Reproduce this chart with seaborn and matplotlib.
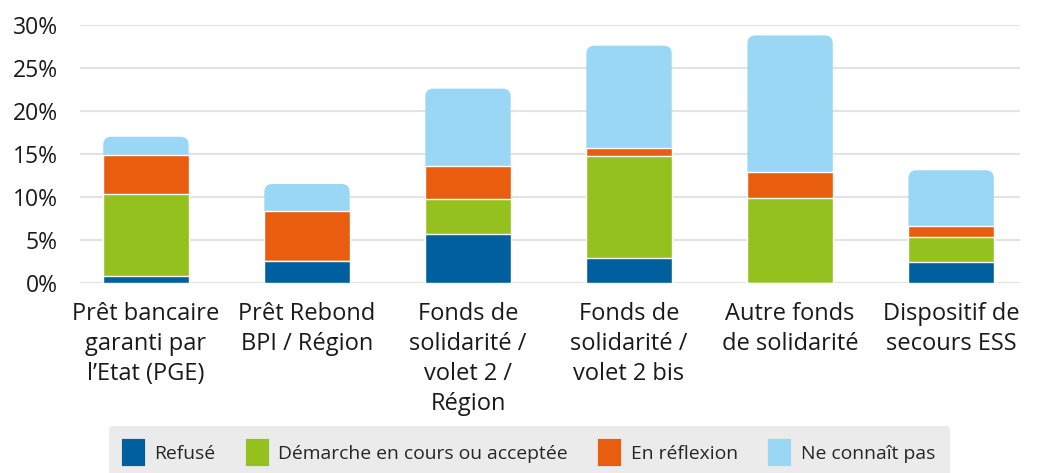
import numpy as np
import pandas as pd
import seaborn as sns
import matplotlib.pyplot as plt
from matplotlib.patches import FancyBboxPatch, Patch

# data (percent)
categories = ['Prêt bancaire\ngaranti par\nl’Etat (PGE)', 'Prêt Rebond\nBPI / Région',
              'Fonds de\nsolidarité /\nvolet 2 /\nRégion', 'Fonds de\nsolidarité /\nvolet 2 bis',
              'Autre fonds\nde solidarité', 'Dispositif de\nsecours ESS']
refuse = [0.8, 2.6, 5.7, 2.9, 0.0, 2.4]
demarche = [9.5, 0.0, 4.1, 11.9, 9.9, 2.9]
reflexion = [4.6, 5.8, 3.8, 0.9, 3.0, 1.3]
ne_connait_pas = [2.1, 3.1, 9.0, 11.9, 15.9, 6.5]
series_names = ['Refusé', 'Démarche en cours ou acceptée', 'En réflexion', 'Ne connaît pas']
colors = ['#005f9e', '#95c11f', '#e95d0f', '#99d7f5']

df = pd.DataFrame({'cat': categories, 'Refusé': refuse, 'Démarche en cours ou acceptée': demarche,
                   'En réflexion': reflexion, 'Ne connaît pas': ne_connait_pas})
cum = df[series_names].cumsum(axis=1)

sns.set_style('white')
plt.rcParams['font.family'] = ['Open Sans', 'DejaVu Sans']

fig = plt.figure(figsize=(10.38, 4.73), dpi=100)
ax = fig.add_axes([0.077, 0.402, 0.906, 0.545])

# stacked bars: draw cumulative totals from the tallest down
for i in range(3, -1, -1):
    sns.barplot(x=df['cat'], y=cum[series_names[i]], color=colors[i], saturation=1,
                width=0.53, errorbar=None, ax=ax, zorder=2)
    if i == 3:
        # round the top corners of the full bars
        for p in list(ax.patches):
            x0, y0, w, h = p.get_x(), p.get_y(), p.get_width(), p.get_height()
            p.remove()
            ax.add_patch(FancyBboxPatch((x0, y0), w, h, boxstyle='round,pad=0,rounding_size=0.05',
                                        mutation_aspect=18.5, facecolor=colors[3],
                                        edgecolor='none', zorder=2))

ax.set_ylim(0, 30)
ax.set_xlim(-0.41, 5.43)
ax.set_yticks([0, 5, 10, 15, 20, 25, 30])
ax.set_yticklabels([f'{v}%' for v in [0, 5, 10, 15, 20, 25, 30]])
ax.yaxis.grid(True, color='#e3e3e3', linewidth=1.5, zorder=0)
ax.set_axisbelow(True)
for s in ax.spines.values():
    s.set_visible(False)
ax.set_xlabel('')
ax.set_ylabel('')
ax.tick_params(axis='y', length=0, pad=16, labelsize=16.5, labelcolor='#1a1a1a')
ax.tick_params(axis='x', length=0, pad=14, labelsize=17, labelcolor='#1a1a1a')
for t in ax.get_xticklabels():
    t.set_linespacing(1.33)

handles = [Patch(facecolor=c, edgecolor=c, linewidth=3, joinstyle='round') for c in colors]
leg = fig.legend(handles, series_names, loc='lower center', bbox_to_anchor=(0.51, -0.033), ncol=4,
                 frameon=True, fancybox=True, facecolor='#ebebeb', edgecolor='none', framealpha=1,
                 fontsize=13.9, handlelength=1.0, handleheight=1.5, handletextpad=0.6,
                 columnspacing=1.65, borderpad=0.75)

fig.savefig('out.png', dpi=100)
